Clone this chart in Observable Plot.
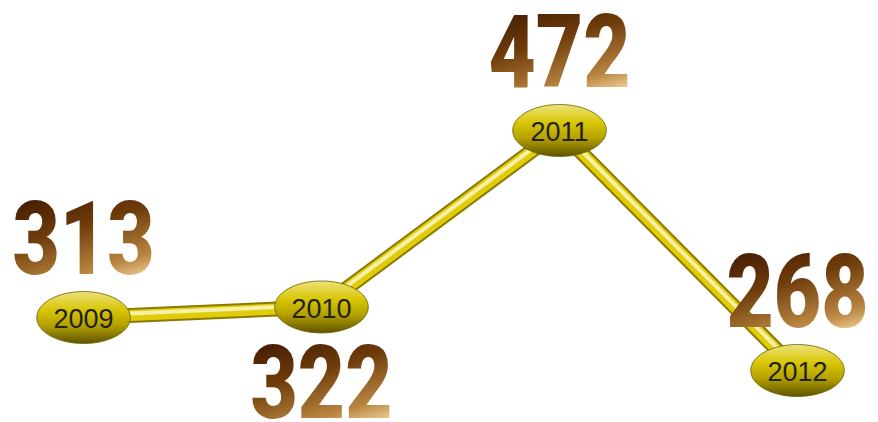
<!DOCTYPE html>
<html>
<head>
<meta charset="utf-8">
<script src="https://cdn.jsdelivr.net/npm/d3@7"></script>
<script src="https://cdn.jsdelivr.net/npm/@observablehq/plot@0.6"></script>
<style>
  html, body { margin: 0; padding: 0; background: #fff; }
  #chart svg { display: block; }
</style>
</head>
<body>
<div id="chart"></div>
<script>
// Data
const years = [2009, 2010, 2011, 2012];
const values = [313, 322, 472, 268];
const yearLabels = ["2009", "2010", "2011", "2012"];
const valueLabels = ["313", "322", "472", "268"];

const data = years.map((y, i) => ({year: y, value: values[i], yl: yearLabels[i], vl: valueLabels[i]}));
// label placement (layout): the 2010 value sits below its point
const above = data.filter(d => d.year !== 2010);
const below = data.filter(d => d.year === 2010);

const ellipse = {
  draw(context, size) {
    const r = Math.sqrt(size / Math.PI);
    const rx = r * 1.8, ry = r, k = 0.5523;
    context.moveTo(rx, 0);
    context.bezierCurveTo(rx, ry * k, rx * k, ry, 0, ry);
    context.bezierCurveTo(-rx * k, ry, -rx, ry * k, -rx, 0);
    context.bezierCurveTo(-rx, -ry * k, -rx * k, -ry, 0, -ry);
    context.bezierCurveTo(rx * k, -ry, rx, -ry * k, rx, 0);
    context.closePath();
  }
};

const numFont = "Roboto, 'DejaVu Sans', sans-serif";

const chart = Plot.plot({
  width: 878,
  height: 422,
  margin: 0,
  x: {type: "point", domain: years, range: [82, 797], padding: 0, axis: null},
  y: {domain: [268, 472], range: [370, 130], axis: null},
  marks: [
    Plot.line(data, {x: "year", y: "value", stroke: "#8a7b00", strokeWidth: 15, strokeLinecap: "round"}),
    Plot.line(data, {x: "year", y: "value", stroke: "#e0cc0a", strokeWidth: 11, strokeLinecap: "round"}),
    Plot.line(data, {x: "year", y: "value", stroke: "#f6f0a8", strokeWidth: 4, dy: -2, strokeLinecap: "round"}),
    Plot.dot(data, {x: "year", y: "value", r: 26, symbol: ellipse, fill: "url(#ellGrad)", stroke: "#6b5e00", strokeWidth: 0.8}),
    Plot.text(data, {x: "year", y: "value", text: "yl", fontSize: 27, dy: 2, fill: "#222", fontFamily: "'Liberation Sans', Arial, sans-serif"}),
    Plot.text(above, {x: "year", y: "value", text: "vl", lineAnchor: "bottom", dy: -44, fontSize: 102, fontWeight: 900, fontFamily: numFont, fill: "url(#numGrad)", className: "num"}),
    Plot.text(below, {x: "year", y: "value", text: "vl", lineAnchor: "bottom", dy: 111, fontSize: 102, fontWeight: 900, fontFamily: numFont, fill: "url(#numGrad)", className: "num"})
  ]
});

d3.select(chart).insert("defs", ":first-child").html(`
  <linearGradient id="ellGrad" x1="0" y1="0" x2="0" y2="1">
    <stop offset="0" stop-color="#ece27a"/>
    <stop offset="0.35" stop-color="#d8c606"/>
    <stop offset="0.65" stop-color="#b3a100"/>
    <stop offset="1" stop-color="#5f5400"/>
  </linearGradient>
  <linearGradient id="numGrad" x1="0" y1="0" x2="0.35" y2="1">
    <stop offset="0" stop-color="#2e0a00"/>
    <stop offset="0.5" stop-color="#6e3c0a"/>
    <stop offset="0.85" stop-color="#b88440"/>
    <stop offset="1" stop-color="#e8c58a"/>
  </linearGradient>
`);

// horizontally condense the big value labels around their anchor
d3.select(chart).selectAll("g.num text").each(function() {
  const x = +this.getAttribute("x") || 0;
  const t = this.getAttribute("transform") || "";
  this.setAttribute("transform", `${t} translate(${x},0) scale(0.8,1) translate(${-x},0)`);
});

document.getElementById("chart").appendChild(chart);
</script>
</body>
</html>
